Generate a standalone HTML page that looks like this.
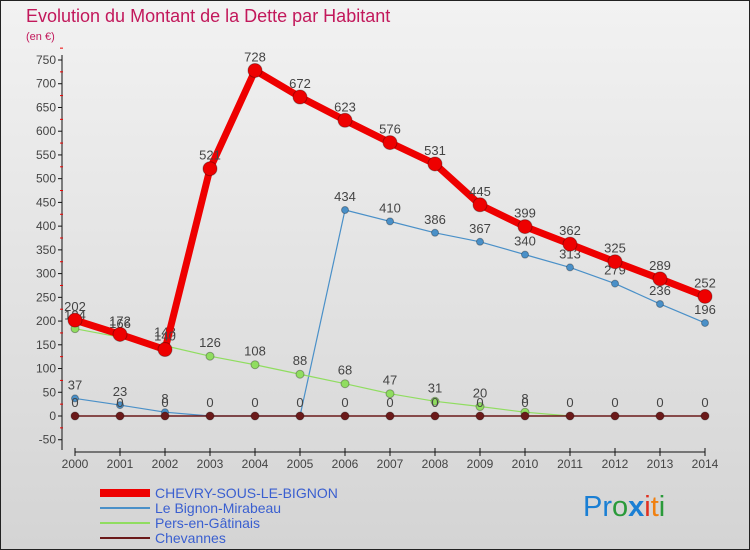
<!DOCTYPE html>
<html><head><meta charset="utf-8"><style>
body{margin:0;width:750px;height:550px;overflow:hidden;font-family:"Liberation Sans",sans-serif}
</style></head><body>
<svg id="c" width="750" height="550" xmlns="http://www.w3.org/2000/svg" style="display:block">
<defs><linearGradient id="bg" x1="0" y1="0" x2="0" y2="1"><stop offset="0" stop-color="#f2f2f2"/><stop offset="1" stop-color="#d4d4d4"/></linearGradient></defs>
<rect x="0.5" y="0.5" width="749" height="549" fill="url(#bg)" stroke="#222"/>
<text x="26" y="22" font-size="18" fill="#c2185b">Evolution du Montant de la Dette par Habitant</text>
<text x="26" y="40" font-size="11" fill="#c2185b">(en €)</text>
<g id="axes"></g><g id="series"></g><g id="legend"></g>
<text x="583" y="516" font-size="29"><tspan fill="#1a7fd4">Pr</tspan><tspan fill="#2a9a3a">o</tspan><tspan fill="#1a7fd4" font-weight="bold">x</tspan><tspan fill="#e03020">i</tspan><tspan fill="#f08010">t</tspan><tspan fill="#2a9a3a">i</tspan></text>
</svg>
<script>
const years=[2000,2001,2002,2003,2004,2005,2006,2007,2008,2009,2010,2011,2012,2013,2014];
const yTicks=[-50,0,50,100,150,200,250,300,350,400,450,500,550,600,650,700,750];
const chevry=[202,172,140,521,728,672,623,576,531,445,399,362,325,289,252];
const bignon=[37,23,8,0,0,0,434,410,386,367,340,313,279,236,196];
const pers=[184,166,148,126,108,88,68,47,31,20,8,0,null,null,null];
const chevannes=[0,0,0,0,0,0,0,0,0,0,0,0,0,0,0];
const NS="http://www.w3.org/2000/svg";
const X=i=>75+i*45, Y=v=>416-v*356/750;
function mk(p,t,a){const e=document.createElementNS(NS,t);for(const k in a)e.setAttribute(k,a[k]);p.appendChild(e);return e;}
const ax=document.getElementById('axes');
let l=mk(ax,'line',{x1:62,y1:55,x2:62,y2:450,stroke:'#111'});


l=mk(ax,'line',{x1:75,y1:452,x2:705,y2:452,stroke:'#111'});


yTicks.forEach(v=>{const y=Y(v);mk(ax,'line',{x1:58,y1:y,x2:62,y2:y,stroke:'#111'});
mk(ax,'line',{x1:60,y1:Y(v+25),x2:63,y2:Y(v+25),stroke:'#e00'});
const t=mk(ax,'text',{x:56,y:y+4,'font-size':12,fill:'#444','text-anchor':'end'});t.textContent=v;

});
years.forEach((yr,i)=>{mk(ax,'line',{x1:X(i),y1:448,x2:X(i),y2:456,stroke:'#111'});
const t=mk(ax,'text',{x:X(i),y:468,'font-size':12,fill:'#444','text-anchor':'middle'});t.textContent=yr;

});
const sg=document.getElementById('series');
function series(name,data,color,w,r,skip){
 const g=mk(sg,'g',{});
 
 
 let d='';data.forEach((v,i)=>{if(v!=null)d+=(d?'L':'M')+X(i)+','+Y(v);});
 mk(g,'path',{d:d,fill:'none',stroke:color,'stroke-width':w,'stroke-linejoin':'round'});
 data.forEach((v,i)=>{if(v==null||skip(i,v))return;
 const c=mk(g,'circle',{cx:X(i),cy:Y(v),r:r,fill:color,stroke:'rgba(0,0,0,0.3)'});
 
 
 const t=mk(g,'text',{x:X(i),y:Y(v)-9,'font-size':13,fill:'#444','text-anchor':'middle'});t.textContent=v;
 
 });
}
series('bignon-series',bignon,'#4a90c8',1.2,3.5,(i,v)=>v===0&&i>2&&i<6);
series('pers-series',pers,'#90dd60',1.2,4,(i,v)=>i===11);
series('chevannes-series',chevannes,'#6b1a1a',1.5,4,()=>false);
series('chevry-series',chevry,'#ee0000',7,7,()=>false);
const lg=document.getElementById('legend');
[['CHEVRY-SOUS-LE-BIGNON','#ee0000',8],['Le Bignon-Mirabeau','#4a90c8',2],['Pers-en-Gâtinais','#90dd60',2],['Chevannes','#6b1a1a',2]].forEach((e,i)=>{
 const y=493+i*15;const g=mk(lg,'g',{});
 
 
 mk(g,'line',{x1:100,y1:y,x2:150,y2:y,stroke:e[1],'stroke-width':e[2]});
 const t=mk(g,'text',{x:155,y:y+5,'font-size':14,fill:'#3a5fd0'});t.textContent=e[0];});
</script>
</body></html>
